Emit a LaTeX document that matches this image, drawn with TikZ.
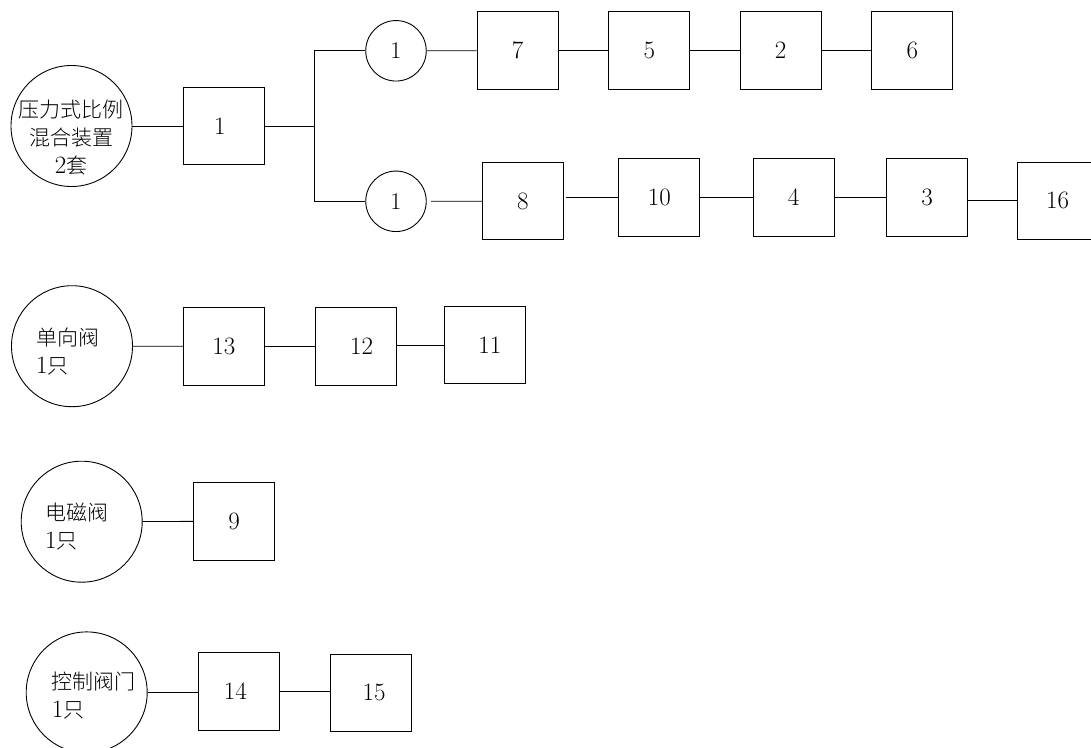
\documentclass[tikz,border=0pt]{standalone}
\usepackage{fontspec}
\newfontfamily\cjk{Noto Sans CJK SC Light}
\begin{document}
\begin{tikzpicture}[x=1pt,y=-1pt,
  box/.style={draw, line width=1pt, minimum width=81pt, minimum height=77.5pt, inner sep=0pt, font=\fontsize{25}{25}\selectfont},
  bigc/.style={draw, circle, line width=0.9pt, minimum size=121pt, inner sep=0pt},
  smallc/.style={draw, circle, line width=0.9pt, minimum size=60.5pt, inner sep=0pt, font=\fontsize{24}{24}\selectfont},
  lbl/.style={align=left, inner sep=0pt, font=\fontsize{21}{28}\selectfont},
  dig/.style={},
  wire/.style={line width=0.9pt}]
\clip (0,0) rectangle (1091,747);
\fill[white] (0,0) rectangle (1091,747);
\newcommand\dg[1]{{\fontsize{25}{28}\selectfont #1}}
% row 1 / 2
\node[bigc] (c1) at (71.5,126) {};
\node[lbl, align=center] (t1) at (71,138) {{\cjk 压力式比例}\\{\cjk 混合装置}\\\dg{2}{\cjk 套}};
\node[box] (b1) at (223.8,126) {\hspace{-8pt}1};
\coordinate (j) at (314.6,126);
\node[smallc] (s1) at (396,50.8) {1};
\node[smallc] (s2) at (396,201.3) {1};
\node[box] (b7) at (517.5,50.7) {7};
\node[box] (b5) at (649.3,50.7) {5};
\node[box] (b2) at (780.5,50.7) {2};
\node[box] (b6) at (912.3,50.7) {6};
\node[box] (b8) at (522.8,201.2) {8};
\node[box] (b10) at (659.3,197.3) {10};
\node[box] (b4) at (793.5,197.3) {4};
\node[box] (b3) at (927.2,197.3) {3};
\node[box] (b16) at (1057.5,200.8) {16};
% row 3
\node[bigc] (c2) at (72,346.2) {};
\node[lbl, anchor=west] (t2) at (36,351.3) {{\cjk 单向阀}\\\dg{1}{\cjk 只}};
\node[box] (b13) at (223.8,346.3) {13};
\node[box] (b12) at (355.5,346.3) {\hspace{12pt}12};
\node[box] (b11) at (484.8,345) {\hspace{10pt}11};
% row 4
\node[bigc] (c3) at (81.7,521.7) {};
\node[lbl, anchor=west] (t3) at (45,527) {{\cjk 电磁阀}\\\dg{1}{\cjk 只}};
\node[box] (b9) at (234,521.3) {9};
% row 5
\node[bigc] (c4) at (86.7,692.4) {};
\node[lbl, anchor=west] (t4) at (51.7,695.5) {{\cjk 控制阀门}\\\dg{1}{\cjk 只}};
\node[box] (b14) at (238.8,691.5) {\hspace{-7pt}14};
\node[box] (b15) at (370.7,692.8) {\hspace{7pt}15};
% connectors
\draw[wire] (c1) -- (b1);
\draw[wire] (b1) -- (j);
\draw[wire] (j) |- (s1);
\draw[wire] (j) |- (s2);
\draw[wire] (s1) -- (b7);
\draw[wire] (b7) -- (b5);
\draw[wire] (b5) -- (b2);
\draw[wire] (b2) -- (b6);
\draw[wire, shorten <=4.5pt] (s2) -- (b8);
\draw[line width=1.5pt, shorten <=2pt] (b8.east |- b10.west) -- (b10.west);
\draw[wire] (b10) -- (b4);
\draw[wire] (b4) -- (b3);
\draw[wire] (b3.east |- b16.west) -- (b16.west);
\draw[wire] (c2) -- (b13);
\draw[wire] (b13) -- (b12);
\draw[wire] (b12.east |- b11.west) -- (b11.west);
\draw[wire] (c3) -- (b9);
\draw[wire] (c4.east) -- (c4.east -| b14.west);
\draw[wire] (b14.east) -- (b14.east -| b15.west);
\end{tikzpicture}
\end{document}
